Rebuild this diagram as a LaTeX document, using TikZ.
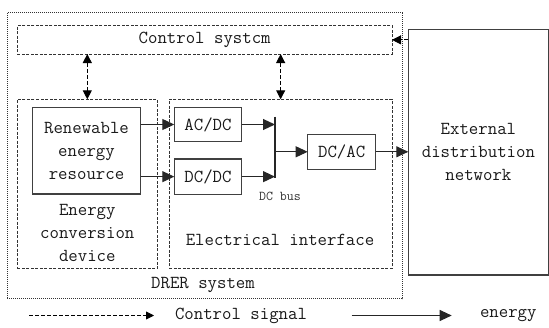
\documentclass[tikz,border=0pt]{standalone}
\usetikzlibrary{arrows.meta}
\begin{document}
\begin{tikzpicture}[x=1pt,y=-1pt,
  txt/.style={font=\fontsize{18.3}{23}\selectfont\ttfamily, text=black!90, align=center, inner sep=0pt},
  small/.style={font=\fontsize{13.5}{15}\selectfont\ttfamily, text=black!80, inner sep=0pt},
  sbox/.style={draw=black!75, line width=1.1pt, inner sep=0pt, outer sep=0pt, txt},
  dbox/.style={draw=black!80, line width=0.8pt, dash pattern=on 3pt off 1.5pt, inner sep=0pt, outer sep=0pt},
  obox/.style={draw=black!80, line width=0.8pt, dash pattern=on 1pt off 1pt, inner sep=0pt, outer sep=0pt},
  energy/.style={draw=black!85, line width=1.1pt, -{Triangle[length=12pt,width=11pt]}},
  ctrlarr/.style={draw=black, line width=0.9pt, dash pattern=on 4pt off 2pt},
  ctip/.style={{Triangle[length=9pt,width=9pt]}-{Triangle[length=9pt,width=9pt]}},
  stip/.style={-{Triangle[length=9pt,width=9pt]}}
]
\useasboundingbox (0,0) rectangle (549,327);

% outer DRER system box
\node[obox, minimum width=395pt, minimum height=285.8pt] (outer) at (204.8,155.6) {};
% control system
\node[dbox, txt, minimum width=374.7pt, minimum height=28.3pt] (ctrl) at (204.65,39.85) {Control systcm};
% energy conversion device
\node[dbox, minimum width=140pt, minimum height=169.2pt] (ecd) at (87.3,183.9) {};
% electrical interface
\node[dbox, minimum width=222.7pt, minimum height=169.2pt] (ei) at (280.65,183.9) {};
% solid boxes
\node[sbox, minimum width=108.4pt, minimum height=86.3pt] (ren) at (86.5,150.85) {Renewable\\energy\\resource};
\node[sbox, minimum width=67.4pt, minimum height=34.4pt] (acdc) at (208,124.5) {AC/DC};
\node[sbox, minimum width=67.4pt, minimum height=35.3pt] (dcdc) at (208,176.65) {DC/DC};
\node[sbox, minimum width=68pt, minimum height=35pt] (dcac) at (341.7,151.8) {DC/AC};
\node[sbox, minimum width=140.2pt, minimum height=245.7pt] (ext) at (478.4,152.15) {External\\distribution\\network};

% labels
\node[txt] (ecdlab) at (87.3,233.3) {Energy\\conversion\\device};
\node[txt] (eilab) at (280,240) {Electrical interface};
\node[txt] (drer) at (203,285) {DRER system};
\node[small] (buslab) at (280,196) {DC bus};

% DC bus
\coordinate (busT) at (275,116.7);
\coordinate (busB) at (275,178.3);
\draw[black!85, line width=1.1pt] (busT) -- (busB);

% energy arrows
\draw[energy] (ren.east |- acdc) -- (acdc.west);
\draw[energy] (ren.east |- dcdc) -- (dcdc.west);
\draw[energy] (acdc.east) -- (acdc.east -| busT);
\draw[energy] (dcdc.east) -- (dcdc.east -| busT);
\draw[energy] (busT |- dcac) -- (dcac.west);
\draw[energy] (dcac.east) -- (ext.west |- dcac);

% control arrows
\draw[ctrlarr, ctip] (ctrl.south -| ecd.north) -- (ecd.north);
\draw[ctrlarr, ctip] (ctrl.south -| ei.north) -- (ei.north);
\draw[ctrlarr, stip] (ext.west |- ctrl.east) -- (ctrl.east);

% legend
\coordinate (la) at (29.3,315.5);
\coordinate (lb) at (154,315.5);
\coordinate (lc) at (351.7,315.5);
\coordinate (ld) at (451.7,315.5);
\draw[ctrlarr, -{Triangle[length=8pt,width=8pt]}] (la) -- (lb);
\node[txt] (lctrl) at (241,315.5) {Control signal};
\draw[energy] (lc) -- (ld);
\node[txt] (lenergy) at (508.3,315.5) {energy};
\end{tikzpicture}
\end{document}
